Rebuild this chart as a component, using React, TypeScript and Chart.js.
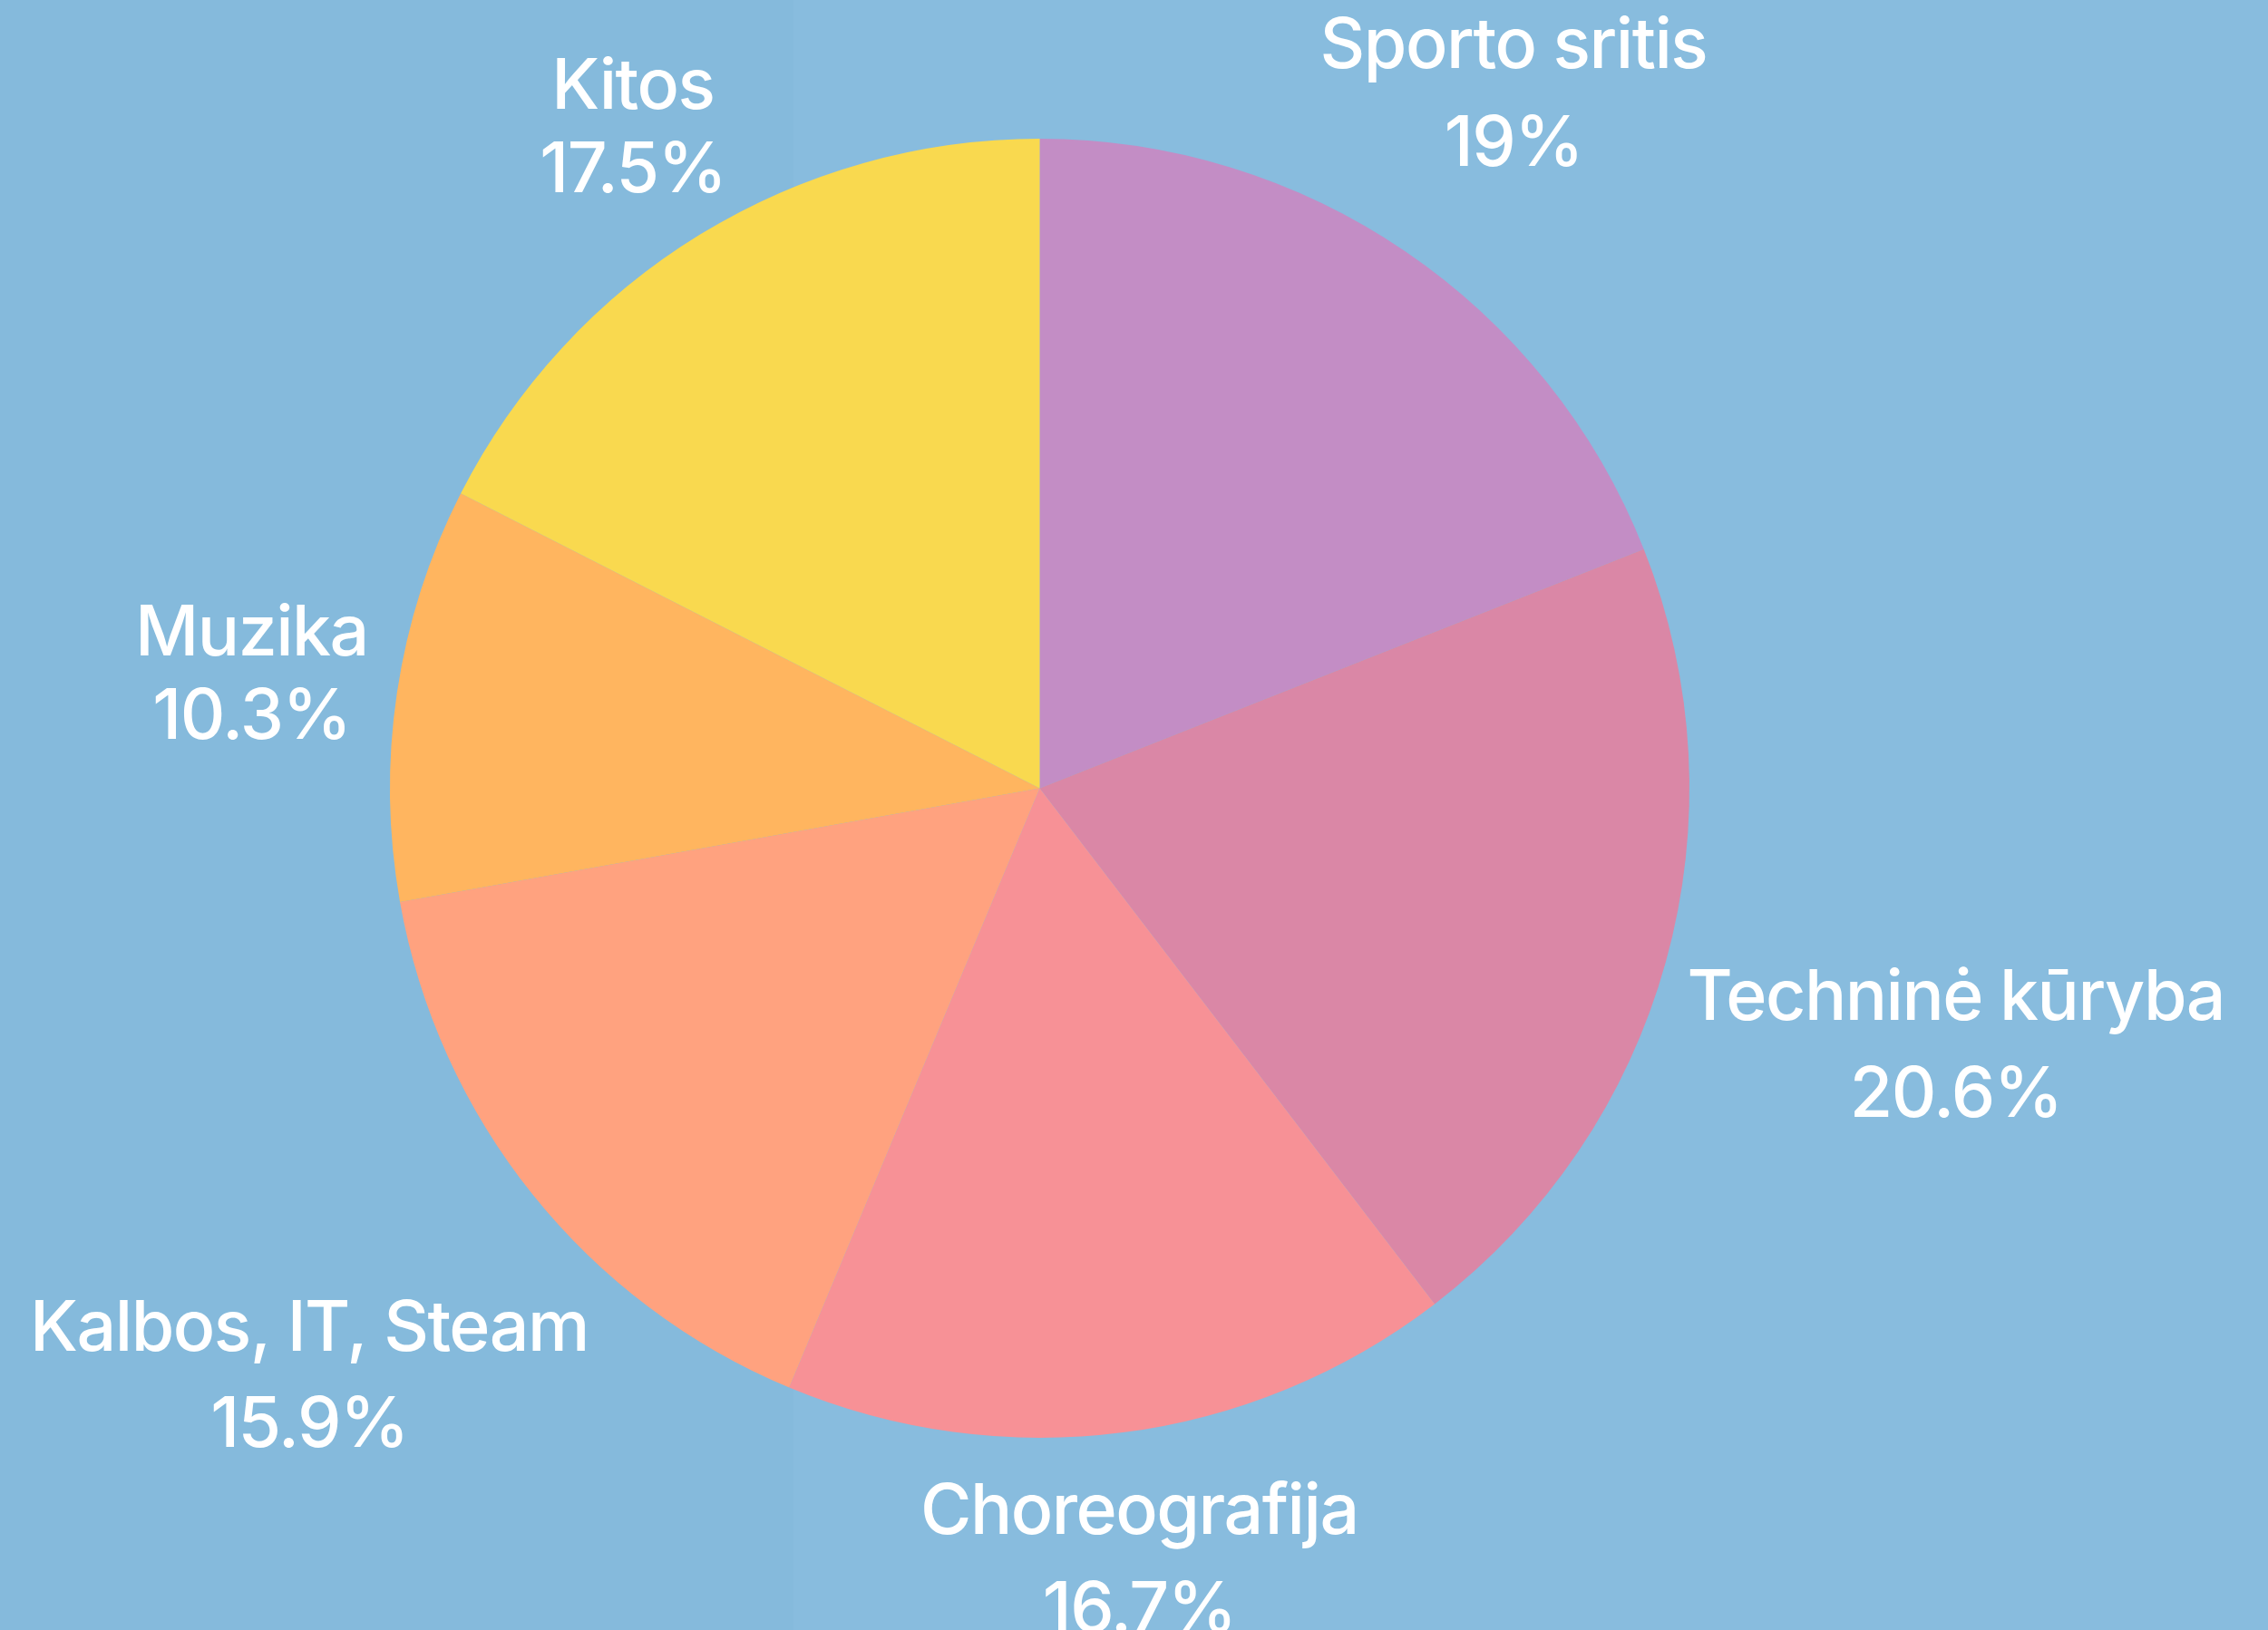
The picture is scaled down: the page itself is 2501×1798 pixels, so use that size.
import React, { useEffect, useRef } from "react";
import { Chart, registerables } from "chart.js";

Chart.register(...registerables);

const categories = [
  "Sporto sritis",
  "Techninė kūryba",
  "Choreografija",
  "Kalbos, IT, Steam",
  "Muzika",
  "Kitos",
];
const values = [19, 20.6, 16.7, 15.9, 10.3, 17.5];
const sliceColors = ["#C38DC5", "#DA87A6", "#F79196", "#FFA27F", "#FFB55F", "#F9D94F"];

const W = 2501;
const H = 1798;
const FONT = "500 77px Inter";

const outsideLabels = {
  id: "outsideLabels",
  afterDatasetsDraw(chart: any) {
    const ctx = chart.ctx as CanvasRenderingContext2D;
    const meta = chart.getDatasetMeta(0);
    const data = chart.data.datasets[0].data as number[];
    const labels = chart.data.labels as string[];
    ctx.save();
    ctx.font = FONT;
    (ctx as any).letterSpacing = "-1.5px";
    ctx.fillStyle = "#FFFFFF";
    ctx.textAlign = "center";
    ctx.textBaseline = "alphabetic";
    const lineGap = 34;
    const edgeGap = 24;
    meta.data.forEach((arc: any, i: number) => {
      const p = arc.getProps(["x", "y", "startAngle", "endAngle", "outerRadius"], true);
      const mid = (p.startAngle + p.endAngle) / 2;
      const c = Math.cos(mid);
      const s = Math.sin(mid);
      const name = labels[i];
      const val = `${data[i]}%`;
      const m1 = ctx.measureText(name);
      const m2 = ctx.measureText(val);
      const w = Math.max(m1.width, m2.width);
      const a1 = m1.actualBoundingBoxAscent;
      const d1 = m1.actualBoundingBoxDescent;
      const a2 = m2.actualBoundingBoxAscent;
      const d2 = m2.actualBoundingBoxDescent;
      const h = a1 + d1 + lineGap + a2 + d2;
      const dist = p.outerRadius + edgeGap + Math.abs(c) * w / 2 + Math.abs(s) * h / 2;
      const cx = p.x + c * dist;
      const cy = p.y + s * dist;
      const top = cy - h / 2;
      ctx.fillText(name, cx, top + a1);
      ctx.fillText(val, cx, top + a1 + d1 + lineGap + a2);
    });
    ctx.restore();
  },
};

export default function App() {
  const ref = useRef<HTMLCanvasElement | null>(null);
  useEffect(() => {
    document.body.style.margin = "0";
    let chart: Chart | null = null;
    let cancelled = false;
    const make = () => {
      if (cancelled || !ref.current) return;
      chart = new Chart(ref.current, {
        type: "pie",
        data: {
          labels: categories,
          datasets: [
            {
              data: values,
              backgroundColor: sliceColors,
              borderWidth: 0,
            },
          ],
        },
        options: {
          responsive: false,
          animation: false,
          devicePixelRatio: 1,
          layout: { padding: { top: 153, bottom: 212, left: 430, right: 638 } },
          plugins: {
            legend: { display: false },
            tooltip: { enabled: false },
          },
        },
        plugins: [outsideLabels],
      });
    };
    (document as any).fonts
      .load(FONT)
      .then(make, make);
    return () => {
      cancelled = true;
      if (chart) chart.destroy();
    };
  }, []);
  return (
    <div
      style={{
        position: "absolute",
        left: 0,
        top: 0,
        width: W,
        height: H,
        background: "linear-gradient(to right, #85BADC 0px, #85BADC 875px, #88BCDE 875px, #88BCDE 100%)",
      }}
    >
      <canvas ref={ref} width={W} height={H} style={{ width: W, height: H, display: "block" }} />
    </div>
  );
}
